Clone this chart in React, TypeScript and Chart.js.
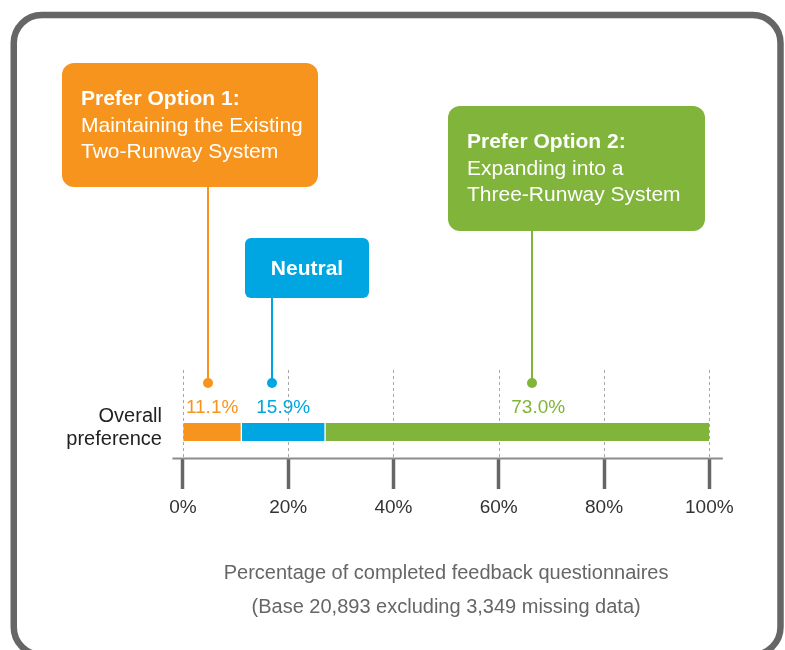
import React, { useEffect, useRef } from 'react';
import { Chart, registerables } from 'chart.js';

Chart.register(...registerables);

const FONT = "'Liberation Sans', Arial, Helvetica, sans-serif";

// ---- data ----
const categories = [['Overall', 'preference']];
const seriesNames = ['Prefer Option 1', 'Neutral', 'Prefer Option 2'];
const seriesValues = [11.1, 15.9, 73.0];
const seriesColors = ['#F7941D', '#00A6E1', '#80B43A'];
const valueLabels = ['11.1%', '15.9%', '73.0%'];
const valueLabelAt = [5.55, 19.05, 67.5];
const calloutAt = [4.75, 17.0, 66.35];
const calloutTitles = ['Prefer Option 1:', 'Neutral', 'Prefer Option 2:'];
const calloutLines = [
  ['Maintaining the Existing', 'Two-Runway System'],
  [],
  ['Expanding into a', 'Three-Runway System'],
];
const tickValues = [0, 20, 40, 60, 80, 100];
const titleLines = [
  'Percentage of completed feedback questionnaires',
  '(Base 20,893 excluding 3,349 missing data)',
];

function roundRect(ctx: CanvasRenderingContext2D, x: number, y: number, w: number, h: number, r: number) {
  ctx.beginPath();
  ctx.moveTo(x + r, y);
  ctx.lineTo(x + w - r, y);
  ctx.arcTo(x + w, y, x + w, y + r, r);
  ctx.lineTo(x + w, y + h - r);
  ctx.arcTo(x + w, y + h, x + w - r, y + h, r);
  ctx.lineTo(x + r, y + h);
  ctx.arcTo(x, y + h, x, y + h - r, r);
  ctx.lineTo(x, y + r);
  ctx.arcTo(x, y, x + r, y, r);
  ctx.closePath();
}

const annotationPlugin = {
  id: 'annotations',
  beforeDraw(chart: any) {
    const ctx = chart.ctx as CanvasRenderingContext2D;
    ctx.save();
    ctx.fillStyle = '#ffffff';
    ctx.fillRect(0, 0, chart.width, chart.height);
    ctx.restore();
  },
  beforeDatasetsDraw(chart: any) {
    const ctx = chart.ctx as CanvasRenderingContext2D;
    const { chartArea } = chart;
    const x = chart.scales.x;
    ctx.save();
    // dashed vertical gridlines
    ctx.strokeStyle = '#a8a8a8';
    ctx.lineWidth = 1;
    ctx.setLineDash([3, 3]);
    for (const t of x.ticks) {
      const px = Math.round(x.getPixelForValue(t.value)) + 0.5;
      ctx.beginPath();
      ctx.moveTo(px, chartArea.top - 35);
      ctx.lineTo(px, chartArea.bottom);
      ctx.stroke();
    }
    ctx.setLineDash([]);
    // axis line
    ctx.strokeStyle = '#8c8c8c';
    ctx.lineWidth = 2;
    ctx.beginPath();
    ctx.moveTo(chartArea.left - 10.5, chartArea.bottom - 0.5);
    ctx.lineTo(chartArea.right + 13.5, chartArea.bottom - 0.5);
    ctx.stroke();
    ctx.restore();
  },
  afterDatasetsDraw(chart: any) {
    const ctx = chart.ctx as CanvasRenderingContext2D;
    const { chartArea } = chart;
    const x = chart.scales.x;
    const bar = chart.getDatasetMeta(0).data[0];
    const barTop = bar.y - bar.height / 2;
    ctx.save();
    // value labels
    ctx.font = `19px ${FONT}`;
    ctx.textAlign = 'center';
    ctx.textBaseline = 'middle';
    valueLabels.forEach((lbl, i) => {
      ctx.fillStyle = seriesColors[i];
      ctx.fillText(lbl, x.getPixelForValue(valueLabelAt[i]), barTop - 15.5);
    });

    // callouts
    const boxes = [
      { x: 62, y: 63, w: 256, h: 124, r: 12 },
      { x: 245, y: 238, w: 124, h: 60, r: 6 },
      { x: 448, y: 106, w: 257, h: 125, r: 12 },
    ];
    const dotY = chartArea.top - 22;
    boxes.forEach((b, i) => {
      const px = Math.round(x.getPixelForValue(calloutAt[i]));
      ctx.strokeStyle = seriesColors[i];
      ctx.lineWidth = 2;
      ctx.beginPath();
      ctx.moveTo(px, b.y + b.h);
      ctx.lineTo(px, dotY);
      ctx.stroke();
      ctx.fillStyle = seriesColors[i];
      ctx.beginPath();
      ctx.arc(px, dotY, 5, 0, Math.PI * 2);
      ctx.fill();

      roundRect(ctx, b.x, b.y, b.w, b.h, b.r);
      ctx.fill();

      ctx.fillStyle = '#ffffff';
      if (calloutLines[i].length === 0) {
        ctx.font = `bold 21px ${FONT}`;
        ctx.textAlign = 'center';
        ctx.textBaseline = 'middle';
        ctx.fillText(calloutTitles[i], b.x + b.w / 2, b.y + b.h / 2 + 1);
      } else {
        ctx.textAlign = 'left';
        ctx.textBaseline = 'alphabetic';
        ctx.font = `bold 21px ${FONT}`;
        ctx.fillText(calloutTitles[i], b.x + 19, b.y + 42);
        ctx.font = `21px ${FONT}`;
        calloutLines[i].forEach((ln, j) => {
          ctx.fillText(ln, b.x + 19, b.y + 42 + 26.5 * (j + 1));
        });
      }
    });
    ctx.restore();
  },
  afterDraw(chart: any) {
    const ctx = chart.ctx as CanvasRenderingContext2D;
    ctx.save();
    ctx.strokeStyle = '#666666';
    ctx.lineWidth = 6.5;
    roundRect(ctx, 13.75, 15, 766.75, 640, 28);
    ctx.stroke();
    ctx.restore();
  },
};

export default function App() {
  const canvasRef = useRef<HTMLCanvasElement | null>(null);

  useEffect(() => {
    if (!canvasRef.current) return;
    Chart.defaults.font.family = FONT;
    const chart = new Chart(canvasRef.current, {
      type: 'bar',
      data: {
        labels: categories as any,
        datasets: seriesValues.map((v, i) => ({
          label: seriesNames[i],
          data: [v],
          backgroundColor: seriesColors[i],
          borderColor: '#ffffff',
          borderWidth: { left: i > 0 ? 1 : 0, right: i < seriesValues.length - 1 ? 1 : 0, top: 0, bottom: 0 },
          borderSkipped: false,
          barThickness: 18,
        })),
      },
      options: {
        indexAxis: 'y',
        animation: false,
        responsive: true,
        maintainAspectRatio: false,
        layout: { padding: { left: 45.3, right: 75.7, top: 405, bottom: 26 } },
        plugins: {
          legend: { display: false },
          tooltip: { enabled: false },
          title: {
            display: true,
            position: 'bottom',
            fullSize: false,
            text: titleLines,
            color: '#666666',
            font: { size: 20, weight: 'normal', lineHeight: 1.7, family: FONT },
            padding: { top: 30.2, bottom: 0 },
          },
        },
        scales: {
          x: {
            type: 'linear',
            stacked: true,
            min: 0,
            max: 100,
            afterBuildTicks: (scale: any) => {
              scale.ticks = tickValues.map((v) => ({ value: v }));
            },
            grid: {
              display: true,
              drawOnChartArea: false,
              drawTicks: true,
              tickLength: 30,
              tickWidth: 3.5,
              tickColor: '#666666',
            },
            border: { display: false },
            ticks: {
              color: '#333333',
              font: { size: 19, family: FONT },
              padding: 7,
              maxRotation: 0,
              callback: (v: any) => `${v}%`,
            },
          },
          y: {
            type: 'category',
            stacked: true,
            grid: { display: false, drawTicks: false },
            border: { display: false },
            ticks: {
              color: '#222222',
              font: { size: 20, lineHeight: 1.15, family: FONT },
              padding: 21,
              labelOffset: -4,
            },
          },
        },
      },
      plugins: [annotationPlugin],
    } as any);
    return () => chart.destroy();
  }, []);

  return (
    <div style={{ position: 'absolute', left: 0, top: 0, width: 785, height: 650 }}>
      <canvas ref={canvasRef} />
    </div>
  );
}
